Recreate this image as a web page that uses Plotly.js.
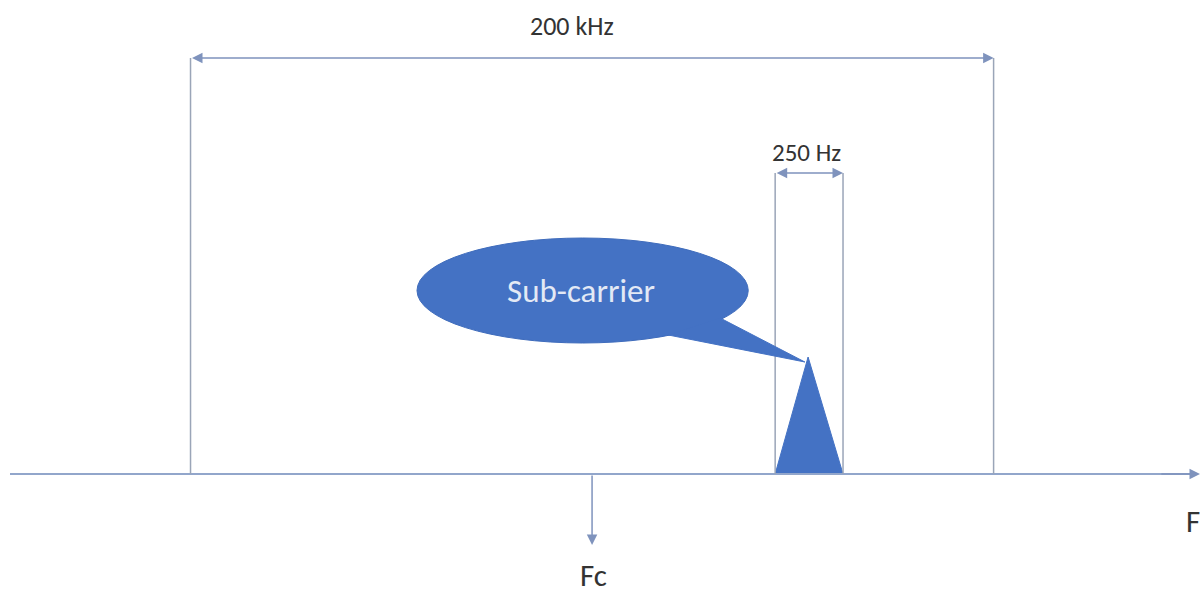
<!DOCTYPE html>
<html>
<head>
<meta charset="utf-8">
<script src="https://cdn.plot.ly/plotly-3.0.1.min.js"></script>
<style>html,body{margin:0;padding:0;background:#fff;}#chart{width:1204px;height:593px;}</style>
</head>
<body>
<div id="chart"></div>
<script>
// ---- data (frequency in kHz relative to Fc; level in arbitrary units) ----
const bandEdgesKHz = [-100, 100];          // 200 kHz channel
const bandLabel = ["200 kHz"];
const subcarrierKHz = [45.6, 53.8, 62.5];  // drawn width (not to scale)
const subcarrierLevel = [0, 117, 0];
const subLabel = ["250 Hz"];
const calloutText = ["Sub-carrier"];
const axisLabels = ["F", "Fc"];
const axisRangeKHz = [-144.96, 151.4];

const FONT = "Carlito, Lato, 'Liberation Sans', sans-serif";
const LINE = "#9aa5b8";
const AXIS = "#92a6cb";
const BLUE = "#4472C4";

const traces = [{
  x: subcarrierKHz, y: subcarrierLevel, type: "scatter", mode: "lines",
  fill: "toself", fillcolor: BLUE, line: {color: BLUE, width: 1},
  hoverinfo: "skip", showlegend: false
}];

const topY = 416, subY = 301;
const shapes = [
  // axis line
  {type: "line", x0: axisRangeKHz[0], x1: axisRangeKHz[1] - 2, y0: 0, y1: 0, line: {color: AXIS, width: 2.2}},
  // channel edges
  {type: "line", x0: bandEdgesKHz[0], x1: bandEdgesKHz[0], y0: 0, y1: topY, line: {color: LINE, width: 1.5}},
  {type: "line", x0: bandEdgesKHz[1], x1: bandEdgesKHz[1], y0: 0, y1: topY, line: {color: LINE, width: 1.5}},
  // sub-carrier window edges
  {type: "line", x0: subcarrierKHz[0], x1: subcarrierKHz[0], y0: 0, y1: subY, line: {color: LINE, width: 1.5}},
  {type: "line", x0: subcarrierKHz[2], x1: subcarrierKHz[2], y0: 0, y1: subY, line: {color: LINE, width: 1.5}},
  // callout ellipse
  {type: "circle", x0: -43.6, x1: 38.9, y0: 131, y1: 236, fillcolor: BLUE, line: {color: "#3f6cbc", width: 1}},
  // callout tail
  {type: "path", path: "M 31.9 156 L 53.0 112 L 19.0 139 Z", fillcolor: BLUE, line: {color: BLUE, width: 1}}
];

function arrow(x, y, ax, ay, side, color, w) {
  return {x: x, y: y, ax: ax, ay: ay, xref: "x", yref: "y", axref: "x", ayref: "y",
    text: "", showarrow: true, arrowhead: 2, startarrowhead: 2, arrowside: side || "end",
    arrowsize: 1.4, startarrowsize: 1.4, arrowwidth: w || 1.5, arrowcolor: color || "#7f93bd", standoff: 0, startstandoff: 0};
}
function label(x, y, t, size, color, xanchor) {
  return {x: x, y: y, xref: "x", yref: "y", text: t, showarrow: false, xanchor: xanchor || "center",
    borderpad: 0,
    font: {family: FONT, size: size, color: color || "#333333"}};
}

const annotations = [
  arrow(bandEdgesKHz[1], topY, bandEdgesKHz[0], topY, "end+start"),
  arrow(subcarrierKHz[2], subY, subcarrierKHz[0], subY, "end+start"),
  arrow(axisRangeKHz[1], 0, axisRangeKHz[1] - 10, 0, "end", "#7f93bd", 1.5),
  arrow(0, -71, 0, 0, "end"),
  label(-5, 448, bandLabel[0], 26),
  label(53.5, 322, subLabel[0], 25),
  label(-2.7, 183, calloutText[0], 33, "#e3e9f5"),
  label(0.3, -101, axisLabels[1], 31),
  label(147.6, -47, axisLabels[0], 31, null, "left")
];

const layout = {
  width: 1204, height: 593,
  margin: {l: 0, r: 0, t: 0, b: 0},
  paper_bgcolor: "#fff", plot_bgcolor: "#fff",
  xaxis: {range: [-147.45, 152.4], visible: false, fixedrange: true},
  yaxis: {range: [-119, 474], visible: false, fixedrange: true},
  shapes: shapes, annotations: annotations, showlegend: false
};

Plotly.newPlot("chart", traces, layout, {displayModeBar: false, staticPlot: true});
</script>
</body>
</html>
